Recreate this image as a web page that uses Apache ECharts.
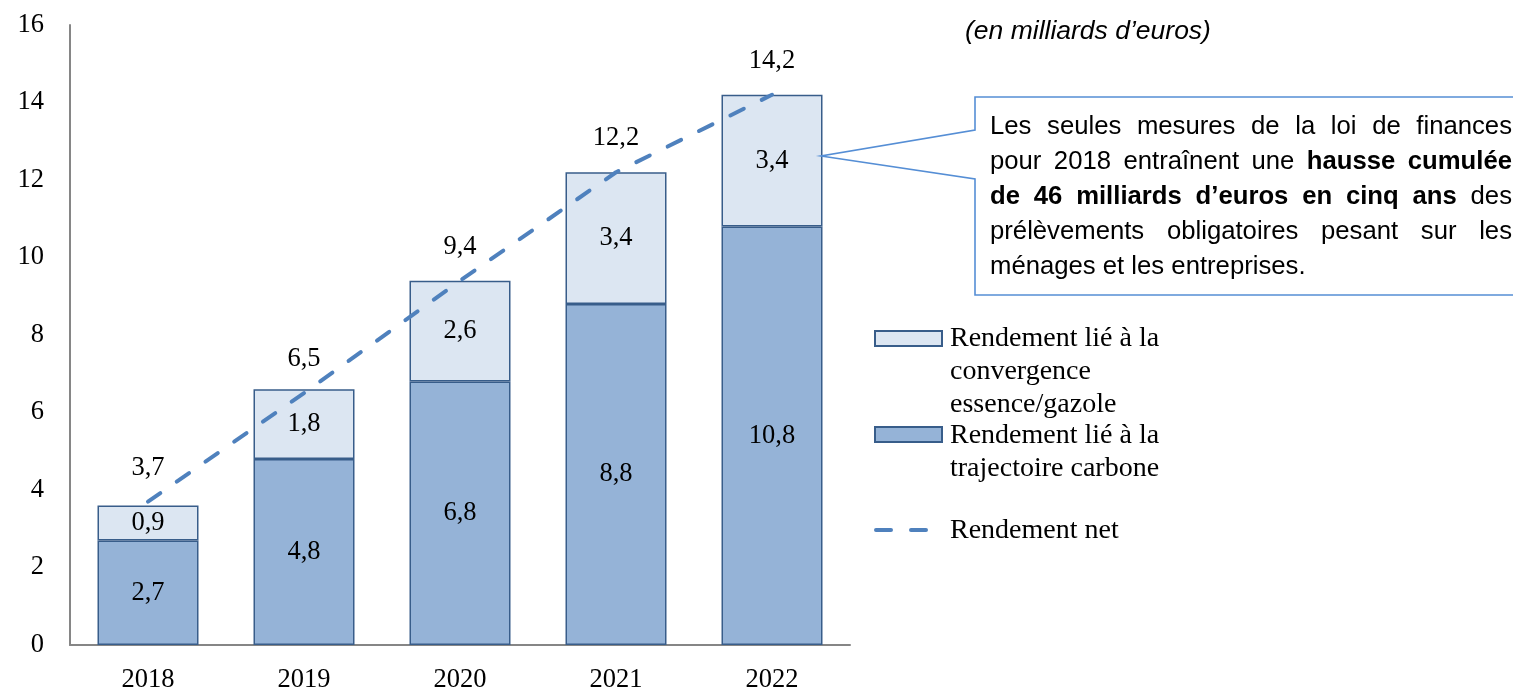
<!DOCTYPE html>
<html>
<head>
<meta charset="utf-8">
<style>
  html, body { margin: 0; padding: 0; background: #fff; }
  #chart { width: 1513px; height: 694px; }
</style>
<script src="https://cdn.jsdelivr.net/npm/echarts@6/dist/echarts.min.js"></script>
</head>
<body>
<div id="chart"></div>
<script>
// Rendement des mesures de fiscalité énergétique (en milliards d'euros)
const years = ['2018', '2019', '2020', '2021', '2022'];
const trajectoireCarbone = [2.7, 4.8, 6.8, 8.8, 10.8];
const convergenceEssenceGazole = [0.9, 1.8, 2.6, 3.4, 3.4];
const rendementNet = [3.7, 6.5, 9.4, 12.2, 14.2];

const legendLabels = {
  convergence: ['Rendement lié à la', 'convergence', 'essence/gazole'],
  carbone: ['Rendement lié à la', 'trajectoire carbone'],
  net: ['Rendement net']
};
const unitLabel = '(en milliards d\u2019euros)';
// Callout lines: each line is a list of [word, bold]
const calloutLines = [
  [['Les', 0], ['seules', 0], ['mesures', 0], ['de', 0], ['la', 0], ['loi', 0], ['de', 0], ['finances', 0]],
  [['pour', 0], ['2018', 0], ['entraînent', 0], ['une', 0], ['hausse', 1], ['cumulée', 1]],
  [['de', 1], ['46', 1], ['milliards', 1], ['d\u2019euros', 1], ['en', 1], ['cinq', 1], ['ans', 1], ['des', 0]],
  [['prélèvements', 0], ['obligatoires', 0], ['pesant', 0], ['sur', 0], ['les', 0]],
  [['ménages', 0], ['et', 0], ['les', 0], ['entreprises.', 0]]
];

const SERIF = "'Liberation Serif', 'Times New Roman', serif";
const SANS = "'Liberation Sans', Arial, sans-serif";
const DARK = '#95B3D7';
const LIGHT = '#DCE6F2';
const EDGE = '#385D8A';
const NETBLUE = '#4F81BD';
const CALLOUT = '#558ED5';

const fmt = v => String(v).replace('.', ',');

// Justified paragraph built word by word
function justifiedText(lines, left, top, width, lineHeight, size) {
  const ctx = document.createElement('canvas').getContext('2d');
  const out = [];
  lines.forEach((words, li) => {
    const fonts = words.map(w => (w[1] ? 'bold ' : '') + size + 'px ' + SANS);
    const widths = words.map((w, i) => { ctx.font = fonts[i]; return ctx.measureText(w[0]).width; });
    const total = widths.reduce((a, b) => a + b, 0);
    ctx.font = size + 'px ' + SANS;
    const normalGap = ctx.measureText(' ').width;
    const last = li === lines.length - 1;
    const gap = last ? normalGap : (width - total) / (words.length - 1);
    let x = left;
    words.forEach((w, i) => {
      out.push({
        type: 'text', left: x, top: top + li * lineHeight, z: 20,
        style: { text: w[0], font: fonts[i], fill: '#000' }
      });
      x += widths[i] + gap;
    });
  });
  return out;
}

function legendBlock(lines, x, y, step, size) {
  return lines.map((t, i) => ({
    type: 'text', left: x, top: y + i * step, z: 20,
    style: { text: t, font: size + 'px ' + SERIF, fill: '#000' }
  }));
}

const graphics = [
  { type: 'text', left: 965, top: 18, z: 20,
    style: { text: unitLabel, font: 'italic 26.5px ' + SANS, fill: '#000' } },
  { type: 'polygon', z: 15,
    shape: { points: [[1530, 97], [975, 97], [975, 130], [821, 156], [975, 179], [975, 295], [1530, 295]] },
    style: { fill: '#fff', stroke: CALLOUT, lineWidth: 1.6 } },
  ...justifiedText(calloutLines, 990, 114, 522, 35, 25.7),
  { type: 'rect', z: 20, shape: { x: 875, y: 331, width: 67, height: 15 },
    style: { fill: LIGHT, stroke: EDGE, lineWidth: 2 } },
  ...legendBlock(legendLabels.convergence, 950, 325, 33, 28),
  { type: 'rect', z: 20, shape: { x: 875, y: 427, width: 67, height: 15 },
    style: { fill: DARK, stroke: EDGE, lineWidth: 2 } },
  ...legendBlock(legendLabels.carbone, 950, 422, 33, 28),
  { type: 'line', z: 20, shape: { x1: 876, y1: 530, x2: 930, y2: 530 },
    style: { stroke: NETBLUE, lineWidth: 4, lineDash: [15, 20], lineCap: 'round' } },
  ...legendBlock(legendLabels.net, 950, 517, 33, 28)
];

const chart = echarts.init(document.getElementById('chart'), null, { renderer: 'canvas' });
chart.setOption({
  animation: false,
  backgroundColor: '#fff',
  grid: { left: 70, right: 663, top: 25, bottom: 45, containLabel: false },
  xAxis: {
    type: 'category',
    data: years,
    axisLine: { show: true, lineStyle: { color: '#868686', width: 2 } },
    axisTick: { show: false },
    axisLabel: { color: '#000', fontFamily: SERIF, fontSize: 26.5, margin: 22 }
  },
  yAxis: {
    type: 'value',
    min: 0, max: 16, interval: 2,
    axisLine: { show: true, lineStyle: { color: '#868686', width: 2 } },
    axisTick: { show: false },
    splitLine: { show: false },
    axisLabel: { color: '#000', fontFamily: SERIF, fontSize: 26.5, margin: 26 }
  },
  series: [
    {
      name: 'Rendement lié à la trajectoire carbone',
      type: 'bar', stack: 'total', barWidth: 101,
      data: trajectoireCarbone,
      itemStyle: { color: DARK, borderColor: EDGE, borderWidth: 1.5 },
      label: { show: true, position: 'inside', color: '#000', fontFamily: SERIF, fontSize: 26.5,
               formatter: p => fmt(p.value) }
    },
    {
      name: 'Rendement lié à la convergence essence/gazole',
      type: 'bar', stack: 'total', barWidth: 101,
      data: convergenceEssenceGazole,
      itemStyle: { color: LIGHT, borderColor: EDGE, borderWidth: 1.5 },
      label: { show: true, position: 'inside', color: '#000', fontFamily: SERIF, fontSize: 26.5,
               formatter: p => fmt(p.value) }
    },
    {
      name: 'Rendement net',
      type: 'line',
      data: rendementNet,
      z: 5,
      symbol: 'circle', symbolSize: 1,
      itemStyle: { color: 'rgba(0,0,0,0)' },
      lineStyle: { color: NETBLUE, width: 4, type: [15, 20], cap: 'round' },
      label: { show: true, position: 'top', distance: 20, color: '#000', fontFamily: SERIF, fontSize: 26.5,
               formatter: p => fmt(p.value) }
    }
  ],
  graphic: graphics
});
</script>
</body>
</html>
